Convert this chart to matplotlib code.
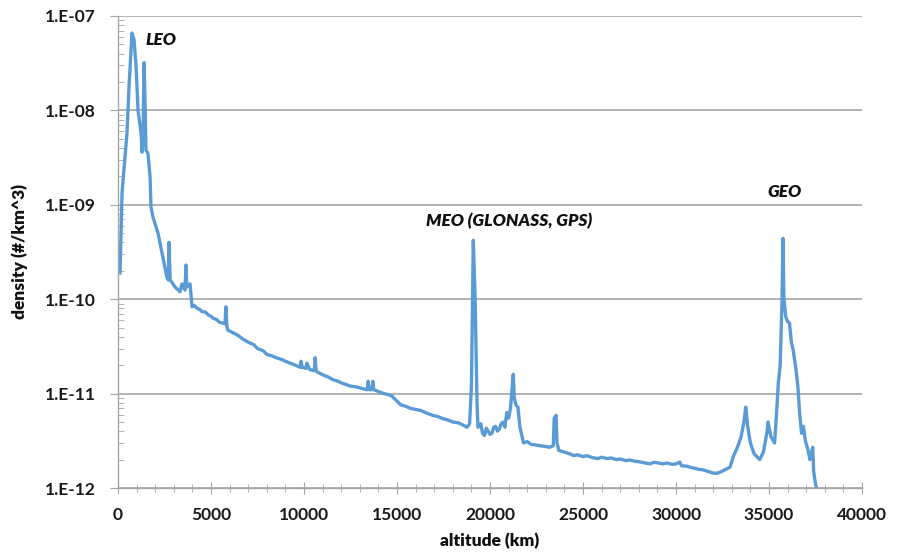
import matplotlib
matplotlib.use("Agg")
import matplotlib.pyplot as plt
import numpy as np
from matplotlib.ticker import FuncFormatter, FixedLocator, MultipleLocator, NullFormatter

# altitude (km) and debris density (#/km^3)
altitude = [
    107, 215, 480, 600, 750, 860, 970, 1075, 1240, 1290, 1340, 1400, 1450, 1500,
    1610, 1720, 1770, 1880, 2150, 2365, 2630, 2700, 2740, 2800, 3060, 3330, 3440,
    3600, 3650, 3700, 3870, 3980, 4100, 4250, 4400, 4500, 4700, 4850, 5000, 5100,
    5300, 5450, 5600, 5750, 5800, 5850, 5900, 6100, 6400, 6700, 7000, 7300, 7500,
    7800, 8000, 8300, 8500, 8800, 9000, 9400, 9800, 9840, 9900, 10100, 10150,
    10300, 10550, 10600, 10650, 10700, 10900, 11100, 11300, 11560, 11800, 12000,
    12300, 12500, 12800, 13000, 13200, 13400, 13450, 13500, 13650, 13700, 13750,
    14000, 14300, 14500, 14700, 14800, 15000, 15200, 15500, 15700, 16000, 16300,
    16600, 16900, 17200, 17500, 17800, 18000, 18300, 18500, 18760, 18900, 19000,
    19100, 19200, 19300, 19350, 19450, 19500, 19600, 19700, 19800, 19900, 20000,
    20100, 20200, 20300, 20400, 20500, 20600, 20700, 20800, 20900, 21000, 21100,
    21200, 21250, 21300, 21400, 21500, 21600, 21800, 22000, 22200, 22500, 22700,
    23000, 23200, 23400, 23450, 23550, 23600, 23700, 24000, 24300, 24500, 24700,
    25000, 25200, 25500, 25800, 26000, 26300, 26500, 26800, 27000, 27300, 27500,
    27800, 28000, 28300, 28600, 28800, 29000, 29300, 29500, 29800, 30000, 30200,
    30300, 30600, 30800, 31000, 31200, 31500, 31700, 32000, 32200, 32400, 32600,
    32900, 33100, 33300, 33500, 33650, 33750, 33850, 34000, 34200, 34500, 34700,
    34900, 34950, 35100, 35300, 35400, 35500, 35600, 35700, 35750, 35800, 35900,
    36000, 36100, 36200, 36300, 36450, 36550, 36650, 36750, 36850, 36950, 37100,
    37200, 37350, 37400, 37500, 37550,
]
density = [
    1.9e-10, 1.35e-9, 5.7e-9, 1.95e-8, 6.6e-8, 5.6e-8, 2.9e-8, 1.0e-8, 5.7e-9, 3.6e-9,
    4.9e-9, 3.2e-8, 1.3e-8, 3.8e-9, 3.5e-9, 2.0e-9, 9.5e-10, 7.4e-10, 5.0e-10,
    3.1e-10, 1.7e-10, 1.6e-10, 4.0e-10, 1.6e-10, 1.35e-10, 1.2e-10, 1.45e-10,
    1.25e-10, 2.3e-10, 1.35e-10, 1.45e-10, 8.3e-11, 8.6e-11, 8.0e-11, 7.8e-11,
    7.4e-11, 7.3e-11, 6.8e-11, 6.6e-11, 6.3e-11, 6.1e-11, 5.7e-11, 5.6e-11,
    5.5e-11, 8.3e-11, 5.2e-11, 4.7e-11, 4.5e-11, 4.2e-11, 3.8e-11, 3.5e-11,
    3.3e-11, 3.0e-11, 2.85e-11, 2.6e-11, 2.5e-11, 2.4e-11, 2.3e-11, 2.2e-11,
    2.05e-11, 1.9e-11, 2.2e-11, 1.9e-11, 1.85e-11, 2.1e-11, 1.8e-11, 1.75e-11,
    2.4e-11, 1.75e-11, 1.7e-11, 1.62e-11, 1.55e-11, 1.5e-11, 1.4e-11, 1.36e-11,
    1.3e-11, 1.24e-11, 1.2e-11, 1.18e-11, 1.15e-11, 1.12e-11, 1.1e-11, 1.35e-11,
    1.1e-11, 1.1e-11, 1.35e-11, 1.1e-11, 1.05e-11, 1.0e-11, 9.8e-12, 9.5e-12,
    9.1e-12, 8.3e-12, 7.6e-12, 7.3e-12, 7.0e-12, 6.8e-12, 6.6e-12, 6.2e-12,
    5.9e-12, 5.7e-12, 5.4e-12, 5.2e-12, 5.0e-12, 4.9e-12, 4.7e-12, 4.4e-12,
    4.8e-12, 1.2e-11, 4.2e-10, 1.0e-10, 8.0e-12, 4.4e-12, 4.6e-12, 4.8e-12,
    3.8e-12, 3.6e-12, 4.3e-12, 4.0e-12, 3.7e-12, 3.8e-12, 4.4e-12, 4.5e-12,
    4.0e-12, 4.2e-12, 4.8e-12, 5.0e-12, 4.4e-12, 6.3e-12, 5.5e-12,
    7.0e-12, 1.2e-11, 1.6e-11, 9.0e-12, 7.5e-12, 7.2e-12, 4.5e-12, 3.0e-12,
    3.1e-12, 2.9e-12, 2.85e-12, 2.8e-12, 2.75e-12, 2.7e-12, 2.8e-12, 5.5e-12,
    5.9e-12, 3.0e-12, 2.5e-12, 2.4e-12, 2.3e-12, 2.2e-12, 2.25e-12, 2.15e-12,
    2.2e-12, 2.1e-12, 2.05e-12, 2.12e-12, 2.05e-12, 2.08e-12, 2.0e-12, 2.03e-12,
    1.95e-12, 1.98e-12, 1.92e-12, 1.9e-12, 1.85e-12, 1.8e-12, 1.87e-12, 1.85e-12,
    1.8e-12, 1.84e-12, 1.78e-12, 1.8e-12, 1.88e-12, 1.72e-12, 1.7e-12, 1.65e-12,
    1.62e-12, 1.58e-12, 1.55e-12, 1.5e-12, 1.44e-12, 1.43e-12, 1.48e-12, 1.55e-12,
    1.66e-12, 2.2e-12, 2.7e-12, 3.5e-12, 5.0e-12, 7.2e-12, 4.5e-12, 3.0e-12,
    2.3e-12, 2.0e-12, 2.4e-12, 4.0e-12, 5.0e-12, 3.5e-12, 3.0e-12, 6.0e-12,
    1.3e-11, 2.0e-11, 1.0e-10, 4.4e-10, 1.0e-10, 6.5e-11, 5.8e-11, 5.6e-11,
    3.5e-11, 2.9e-11, 1.8e-11, 1.2e-11, 6.0e-12, 3.8e-12, 4.5e-12, 3.2e-12,
    2.5e-12, 2.0e-12, 2.7e-12, 1.5e-12, 1.1e-12, 1.0e-12,
]

y_decades = [1e-12, 1e-11, 1e-10, 1e-9, 1e-8, 1e-7]

labels = ["LEO", "MEO (GLONASS, GPS)", "GEO"]
label_x = [2300, 21000, 35850]
label_y = [5.6e-8, 6.8e-10, 1.37e-9]

plt.rcParams["font.family"] = ["Lato", "DejaVu Sans"]

fig = plt.figure(figsize=(8.97, 5.59), dpi=100)
ax = fig.add_axes([0.1316, 0.127, 0.8294, 0.8444])

ax.plot(altitude, density, color="#5B9BD5", linewidth=2.4, solid_joinstyle="round")

ax.set_yscale("log")
ax.set_xlim(0, 40000)
ax.set_ylim(1e-12, 1e-7)

ax.xaxis.set_major_locator(MultipleLocator(5000))
ax.xaxis.set_minor_locator(MultipleLocator(1000))
minor_y = [d * k for d in y_decades[:-1] for k in range(2, 10)]
ax.yaxis.set_major_locator(FixedLocator(y_decades))
ax.yaxis.set_minor_locator(FixedLocator(minor_y))
ax.yaxis.set_major_formatter(FuncFormatter(lambda v, p: "1.E-%02d" % round(-np.log10(v))))
ax.yaxis.set_minor_formatter(NullFormatter())

grid_col = "#A6A6A6"
ax.grid(axis="y", which="major", color=grid_col, linewidth=1.2)
ax.set_axisbelow(True)
for s in ["top", "right"]:
    ax.spines[s].set_visible(False)
for s in ["left", "bottom"]:
    ax.spines[s].set_color(grid_col)
    ax.spines[s].set_linewidth(1.0)

ax.tick_params(axis="y", which="major", direction="out", length=6, color=grid_col,
               labelsize=12.5, labelcolor="#1a1a1a", pad=10)
ax.tick_params(axis="y", which="minor", direction="in", length=4, color=grid_col,
               labelleft=False)
ax.tick_params(axis="x", which="major", direction="inout", length=8, color=grid_col,
               labelsize=12.5, labelcolor="#1a1a1a", pad=10)
ax.tick_params(axis="x", which="minor", direction="inout", length=6, color=grid_col,
               labelbottom=False)
for t in ax.get_xticklabels() + ax.get_yticklabels():
    t.set_fontweight("bold")

ax.set_xlabel("altitude (km)", fontsize=12.5, fontweight="heavy", color="#111111", labelpad=7)
ax.set_ylabel("density (#/km^3)", fontsize=12.5, fontweight="heavy", color="#111111", labelpad=12)

for txt, x, y in zip(labels, label_x, label_y):
    ax.text(x, y, txt, ha="center", va="center", fontsize=12.5, fontweight="heavy",
            fontstyle="italic", color="#111111")

fig.savefig("out.png", dpi=100)
